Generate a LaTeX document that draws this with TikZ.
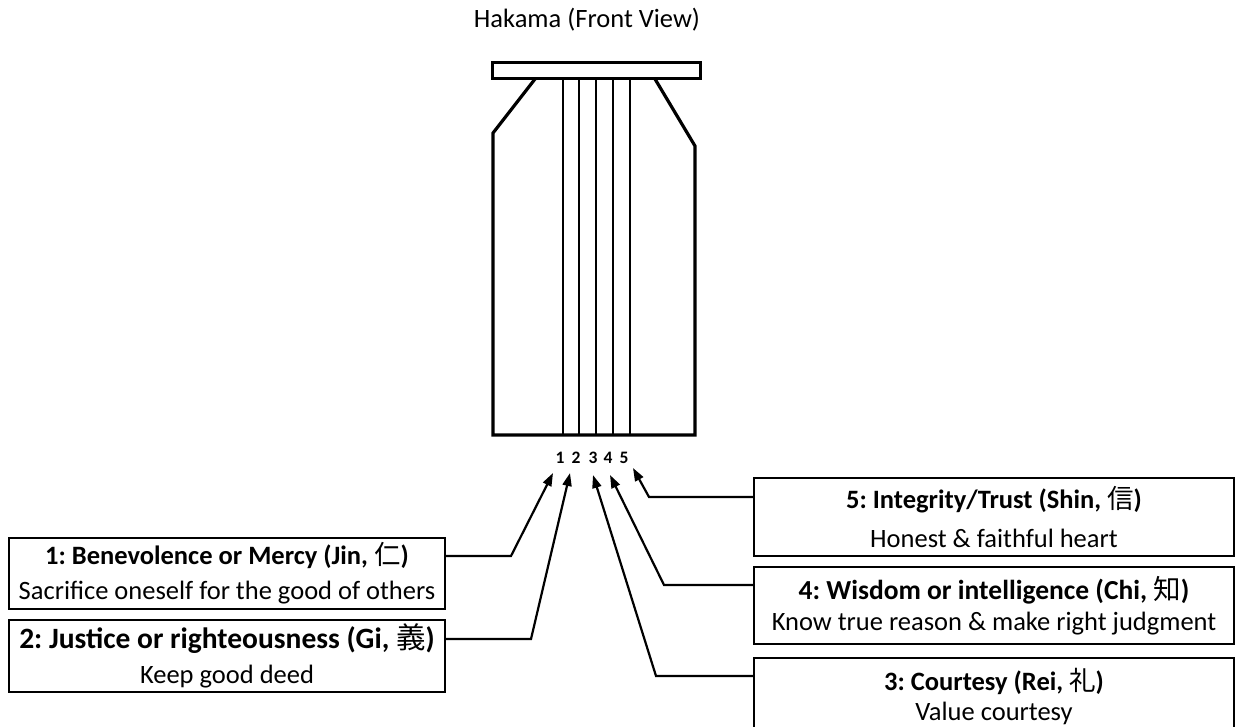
\documentclass[tikz,border=0pt]{standalone}
\usepackage{fontspec}
\setmainfont{Carlito}
\newfontfamily\cjk{Noto Sans CJK JP}
\usetikzlibrary{arrows.meta}
\frenchspacing
\newcommand{\kanji}[1]{{\cjk\mdseries #1}}
\begin{document}
\begin{tikzpicture}[x=1pt,y=-1pt,
  infobox/.style={draw, line width=2pt, inner sep=0pt, align=center, anchor=north west},
  outline/.style={line width=3.2pt, line join=miter},
  pleat/.style={line width=1.2pt},
  pointer/.style={line width=2.2pt, -{Stealth[length=13pt,width=9pt,inset=0pt]}},
  num/.style={font=\fontsize{17.5}{19}\selectfont\bfseries, inner sep=0pt}
]
\useasboundingbox (0,0) rectangle (1236,727);

% title
\node[font=\fontsize{26.5}{30}\selectfont] (title) at (587,20) {Hakama (Front View)};

% hakama
\draw[line width=3pt] (492,63) rectangle (700,79);
\draw[outline] (535,79) -- (493,133) -- (493,435) -- (695,435) -- (695,146) -- (655,79);
\foreach \x in {563,579,596,613,630}{
  \draw[pleat] (\x,79) -- (\x,435);
}

% numbers
\node[num] (n1) at (560,458) {1};
\node[num] (n2) at (576,458) {2};
\node[num] (n3) at (593,458) {3};
\node[num] (n4) at (608,458) {4};
\node[num] (n5) at (624,458) {5};

% boxes
\node[infobox, minimum width=436pt, minimum height=71pt, font=\fontsize{26.5}{35}\selectfont] (b1) at (8,537)
  {\textbf{1: Benevolence or Mercy (Jin, \kanji{仁})}\\Sacrifice oneself for the good of others};
\node[infobox, minimum width=436pt, minimum height=72pt, font=\fontsize{26.5}{35}\selectfont] (b2) at (8,619)
  {{\fontsize{29.5}{32}\selectfont\textbf{2: Justice or righteousness (Gi, \kanji{義})}}\\Keep good deed};
\node[infobox, minimum width=480pt, minimum height=78pt, font=\fontsize{26.5}{39}\selectfont] (b5) at (753,477)
  {\textbf{5: Integrity/Trust (Shin, \kanji{信})}\\Honest \& faithful heart};
\node[infobox, minimum width=480pt, minimum height=77pt, font=\fontsize{26.5}{31}\selectfont] (b4) at (753,566)
  {{\fontsize{27.5}{30}\selectfont\textbf{4: Wisdom or intelligence (Chi, \kanji{知})}}\\Know true reason \& make right judgment};
\node[infobox, minimum width=480pt, minimum height=77pt, font=\fontsize{26.5}{30}\selectfont] (b3) at (753,657)
  {\textbf{3: Courtesy (Rei, \kanji{礼})}\\Value courtesy};

% bend and tip coordinates
\coordinate (k1) at (511,556);  \coordinate (t1) at (553,473);
\coordinate (k2) at (531,639);  \coordinate (t2) at (570,473);
\coordinate (k3) at (656,676);  \coordinate (t3) at (593,475);
\coordinate (k4) at (664,585);  \coordinate (t4) at (610,475);
\coordinate (k5) at (649,497);  \coordinate (t5) at (633,468);

% connectors
\draw[pointer] (b1.east |- k1) -- (k1) -- (t1);
\draw[pointer] (b2.east |- k2) -- (k2) -- (t2);
\draw[pointer] (b3.west |- k3) -- (k3) -- (t3);
\draw[pointer] (b4.west |- k4) -- (k4) -- (t4);
\draw[pointer] (b5.west |- k5) -- (k5) -- (t5);
\end{tikzpicture}
\end{document}
